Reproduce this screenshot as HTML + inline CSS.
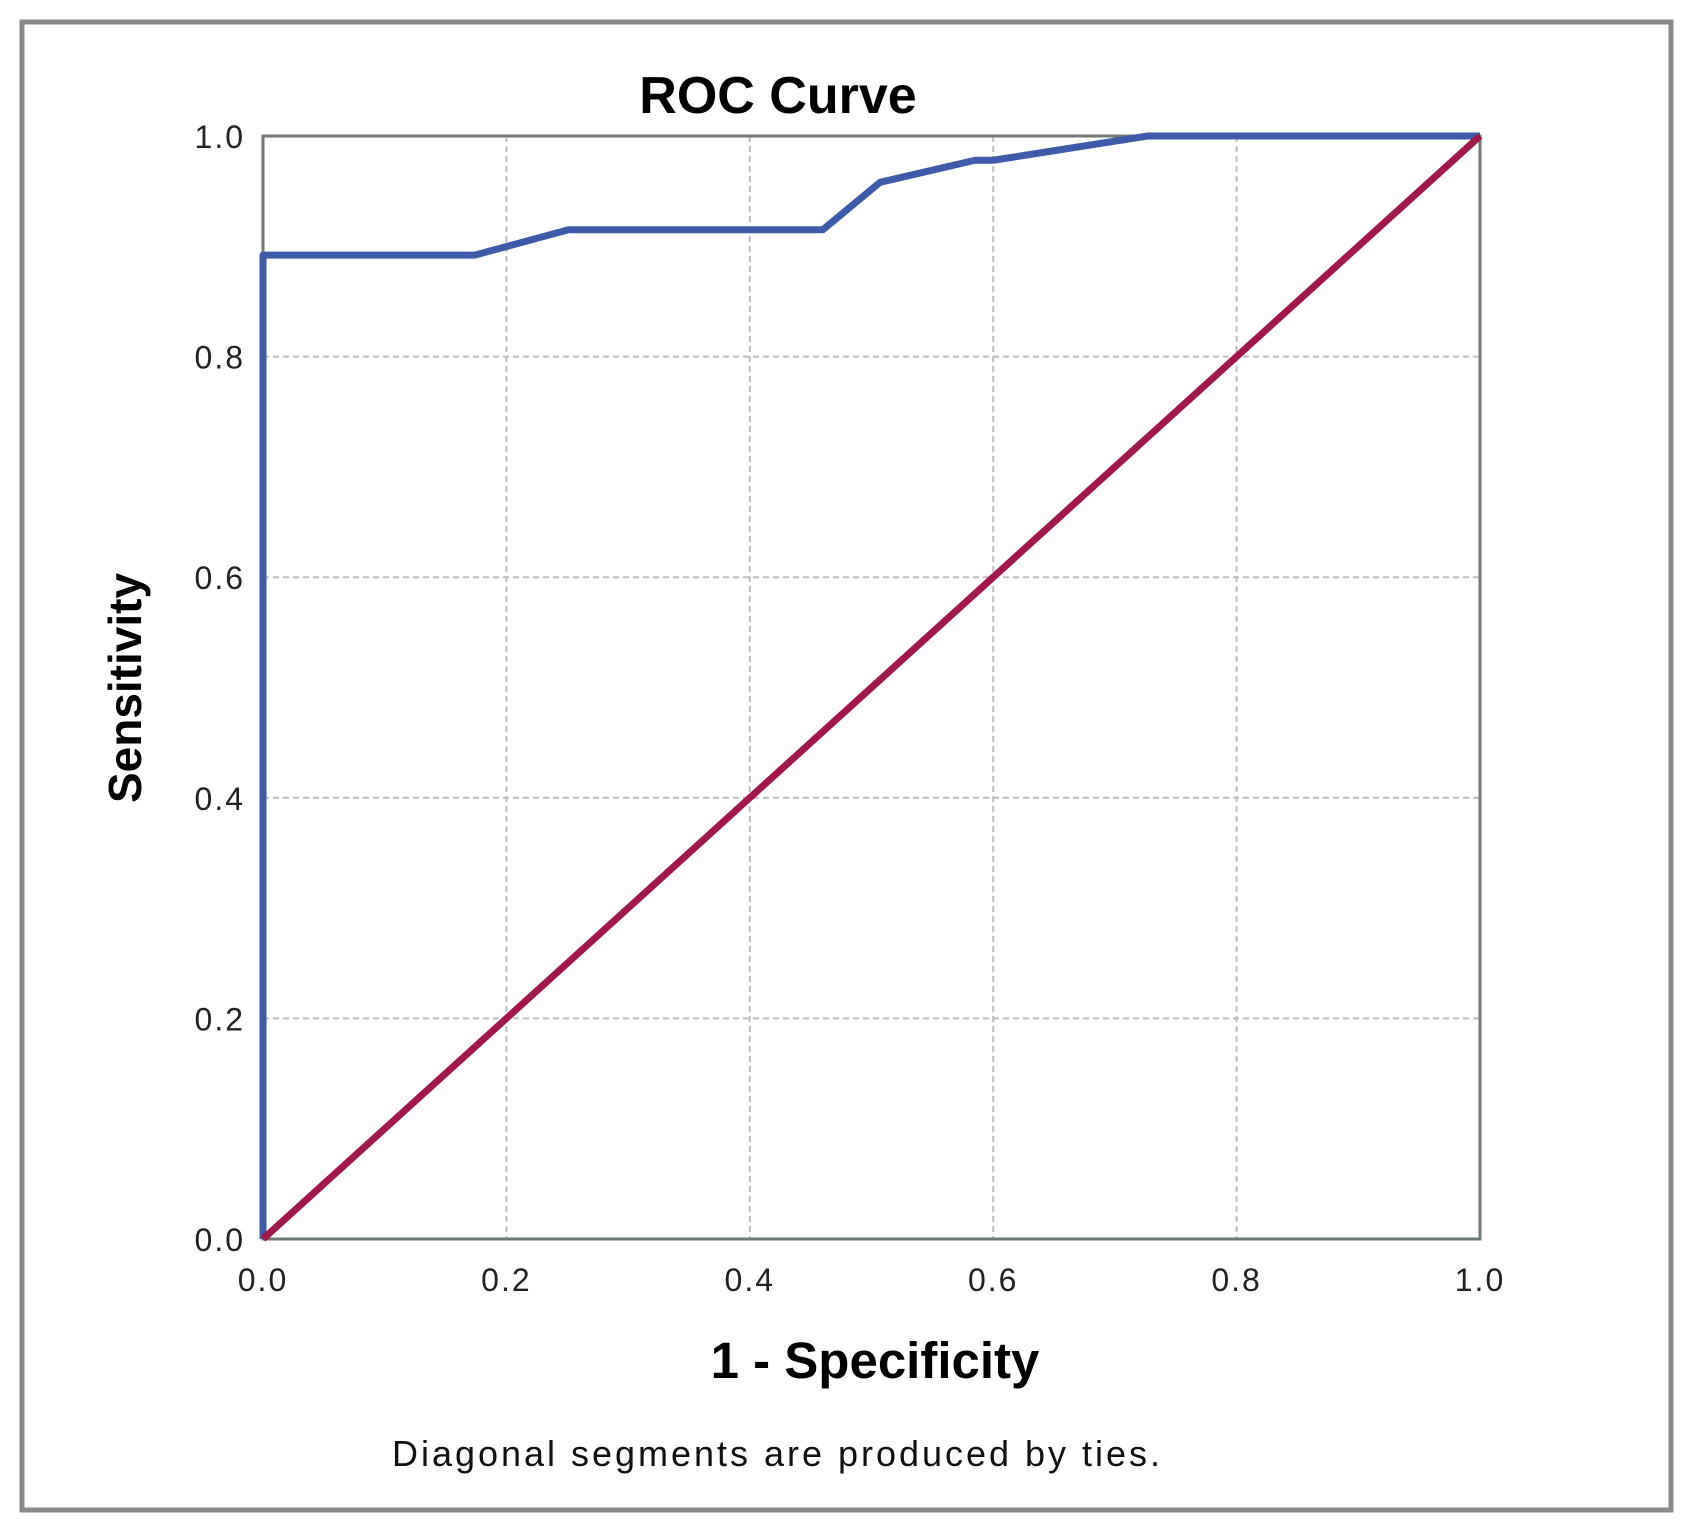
<!DOCTYPE html>
<html><head><meta charset="utf-8"><style>
html,body{margin:0;padding:0;background:#fff;}
svg{display:block;font-family:"Liberation Sans",Arial,sans-serif;}
</style></head><body>
<svg id="chart" width="1698" height="1539" viewBox="0 0 1698 1539">
<rect x="22" y="22" width="1649" height="1488" fill="#fff" stroke="#8a8a8a" stroke-width="5"/>
<g id="grid"></g>
<rect x="263" y="136" width="1217" height="1103" fill="none" stroke="#6f7a74" stroke-width="3"/>
<g id="marks"></g>
<g id="ticks"></g>
<text x="778" y="113" font-size="52" font-weight="bold" text-anchor="middle">ROC Curve</text>
<text x="875" y="1378" font-size="51" font-weight="bold" text-anchor="middle">1 - Specificity</text>
<text transform="translate(141,688) rotate(-90)" font-size="46" font-weight="bold" text-anchor="middle">Sensitivity</text>
<text x="776" y="1466" font-size="36" text-anchor="middle" textLength="768" fill="#111">Diagonal segments are produced by ties.</text>
</svg>
<script>
const tickValues=[0,0.2,0.4,0.6,0.8,1.0];
const tickLabels=["0.0","0.2","0.4","0.6","0.8","1.0"];
const rocX=[0,0,0.174,0.251,0.46,0.507,0.585,0.6,0.727,1.0];
const rocY=[0,0.892,0.892,0.915,0.915,0.958,0.978,0.978,1.0,1.0];
const refX=[0,1];
const refY=[0,1];
const L=263,R=1480,T=136,B=1239;
const sx=v=>L+v*(R-L), sy=v=>B-v*(B-T);
const NS='http://www.w3.org/2000/svg';
const grid=document.getElementById('grid'),marks=document.getElementById('marks'),ticks=document.getElementById('ticks');
tickValues.forEach((v,i)=>{
  if(v>0&&v<1){
    const gv=document.createElementNS(NS,'line');
    gv.setAttribute('x1',sx(v));gv.setAttribute('x2',sx(v));gv.setAttribute('y1',T);gv.setAttribute('y2',B);
    gv.setAttribute('stroke','#bdbdbd');gv.setAttribute('stroke-width','2');gv.setAttribute('stroke-dasharray','6,4');
    
    
    grid.appendChild(gv);
    const gh=document.createElementNS(NS,'line');
    gh.setAttribute('y1',sy(v));gh.setAttribute('y2',sy(v));gh.setAttribute('x1',L);gh.setAttribute('x2',R);
    gh.setAttribute('stroke','#bdbdbd');gh.setAttribute('stroke-width','2');gh.setAttribute('stroke-dasharray','6,4');
    
    
    grid.appendChild(gh);
  }
  const tx=document.createElementNS(NS,'text');
  tx.setAttribute('x',sx(v));tx.setAttribute('y',1291);tx.setAttribute('font-size','32');tx.setAttribute('letter-spacing','2');tx.setAttribute('text-anchor','middle');tx.setAttribute('fill','#222');
  tx.textContent=tickLabels[i];
  
  
  ticks.appendChild(tx);
  const ty=document.createElementNS(NS,'text');
  ty.setAttribute('x',245);ty.setAttribute('y',sy(v)+12);ty.setAttribute('font-size','32');ty.setAttribute('letter-spacing','2');ty.setAttribute('text-anchor','end');ty.setAttribute('fill','#222');
  ty.textContent=tickLabels[i];
  
  
  ticks.appendChild(ty);
});
function poly(xs,ys,color,name){
  const p=document.createElementNS(NS,'polyline');
  p.setAttribute('points',xs.map((x,i)=>sx(x)+','+sy(ys[i])).join(' '));
  p.setAttribute('fill','none');p.setAttribute('stroke',color);p.setAttribute('stroke-width','7');p.setAttribute('stroke-linejoin','round');
  
  
  marks.appendChild(p);
}
poly(rocX,rocY,'#3d5ba9','roc-curve');
poly(refX,refY,'#a2184c','reference-line');
</script>
</body></html>
